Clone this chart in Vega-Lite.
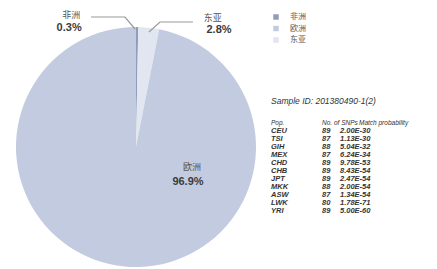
{
  "$schema": "https://vega.github.io/schema/vega-lite/v6.json",
  "padding": {"top": 11, "left": 0, "right": 0, "bottom": 0},
  "background": "white",
  "spacing": 0,
  "bounds": "flush",
  "config": {"view": {"stroke": null}, "font": "Liberation Sans"},
  "resolve": {"scale": {"color": "independent", "x": "independent", "y": "independent", "theta": "independent"}, "legend": {"color": "independent"}},
  "hconcat": [
    {
      "width": 272,
      "height": 242,
      "data": {"values": [
        {"region": "非洲", "share": 0.003},
        {"region": "东亚", "share": 0.028},
        {"region": "欧洲", "share": 0.969}
      ]},
      "layer": [
        {
          "mark": {"type": "arc", "outerRadius": 120},
          "encoding": {
            "theta": {"field": "share", "type": "quantitative", "stack": true},
            "order": {"field": "share", "type": "quantitative", "sort": "ascending"},
            "color": {"field": "region", "type": "nominal",
              "scale": {"domain": ["非洲", "欧洲", "东亚"], "range": ["#8f9dbd", "#c2cbe0", "#e1e6f0"]},
              "legend": {"orient": "none", "legendX": 272, "legendY": -13, "title": null, "symbolType": "square", "symbolSize": 30, "symbolStrokeWidth": 0, "labelFontSize": 8, "labelFont": "Noto Sans CJK SC", "labelColor": "#555555", "rowPadding": 3.5, "labelOffset": 10, "padding": 0}}
          }
        },
        {
          "data": {"values": [{}]},
          "mark": {"type": "point", "shape": "M-0.45,-1.30 L-0.11,-1.30 L-0.01,-1.18 M0.57,-1.25 L0.24,-1.25 L0.13,-1.15", "size": 40000, "filled": false, "stroke": "#9a9a9a", "strokeWidth": 1.2, "opacity": 1},
          "encoding": {}
        },
        {
          "mark": {"type": "text", "radius": 132, "dx": -66, "align": "center", "baseline": "middle", "font": "Noto Sans CJK SC", "fontSize": 9, "color": "#555555"},
          "encoding": {
            "theta": {"field": "share", "type": "quantitative", "stack": true},
            "order": {"field": "share", "type": "quantitative", "sort": "ascending"},
            "detail": {"field": "region", "type": "nominal"},
            "text": {"condition": {"test": "datum.region === '非洲'", "field": "region", "type": "nominal"}, "value": ""}
          }
        },
        {
          "mark": {"type": "text", "radius": 119, "dx": -68, "align": "center", "baseline": "middle", "fontSize": 11, "fontWeight": "bold", "color": "#3b3b3b"},
          "encoding": {
            "theta": {"field": "share", "type": "quantitative", "stack": true},
            "order": {"field": "share", "type": "quantitative", "sort": "ascending"},
            "detail": {"field": "region", "type": "nominal"},
            "text": {"condition": {"test": "datum.region === '非洲'", "field": "share", "type": "quantitative", "format": ".1%"}, "value": ""}
          }
        },
        {
          "mark": {"type": "text", "radius": 129.7, "dx": 63, "align": "center", "baseline": "middle", "font": "Noto Sans CJK SC", "fontSize": 9, "color": "#555555"},
          "encoding": {
            "theta": {"field": "share", "type": "quantitative", "stack": true},
            "order": {"field": "share", "type": "quantitative", "sort": "ascending"},
            "detail": {"field": "region", "type": "nominal"},
            "text": {"condition": {"test": "datum.region === '东亚'", "field": "region", "type": "nominal"}, "value": ""}
          }
        },
        {
          "mark": {"type": "text", "radius": 117.2, "dx": 70.5, "align": "center", "baseline": "middle", "fontSize": 11, "fontWeight": "bold", "color": "#3b3b3b"},
          "encoding": {
            "theta": {"field": "share", "type": "quantitative", "stack": true},
            "order": {"field": "share", "type": "quantitative", "sort": "ascending"},
            "detail": {"field": "region", "type": "nominal"},
            "text": {"condition": {"test": "datum.region === '东亚'", "field": "share", "type": "quantitative", "format": ".1%"}, "value": ""}
          }
        },
        {
          "mark": {"type": "text", "radius": 20.1, "dx": 58, "align": "center", "baseline": "middle", "font": "Noto Sans CJK SC", "fontSize": 9, "color": "#555555"},
          "encoding": {
            "theta": {"field": "share", "type": "quantitative", "stack": true},
            "order": {"field": "share", "type": "quantitative", "sort": "ascending"},
            "detail": {"field": "region", "type": "nominal"},
            "text": {"condition": {"test": "datum.region === '欧洲'", "field": "region", "type": "nominal"}, "value": ""}
          }
        },
        {
          "mark": {"type": "text", "radius": 35.2, "dx": 55.4, "align": "center", "baseline": "middle", "fontSize": 11, "fontWeight": "bold", "color": "#3b3b3b"},
          "encoding": {
            "theta": {"field": "share", "type": "quantitative", "stack": true},
            "order": {"field": "share", "type": "quantitative", "sort": "ascending"},
            "detail": {"field": "region", "type": "nominal"},
            "text": {"condition": {"test": "datum.region === '欧洲'", "field": "share", "type": "quantitative", "format": ".1%"}, "value": ""}
          }
        }
      ]
    },
    {
      "width": 165,
      "height": 242,
      "data": {"values": [
        {"row": 1, "pop": "CEU", "snps": "89", "prob": "2.00E-30"},
        {"row": 2, "pop": "TSI", "snps": "87", "prob": "1.13E-30"},
        {"row": 3, "pop": "GIH", "snps": "88", "prob": "5.04E-32"},
        {"row": 4, "pop": "MEX", "snps": "87", "prob": "6.24E-34"},
        {"row": 5, "pop": "CHD", "snps": "89", "prob": "9.78E-53"},
        {"row": 6, "pop": "CHB", "snps": "89", "prob": "8.43E-54"},
        {"row": 7, "pop": "JPT", "snps": "89", "prob": "2.47E-54"},
        {"row": 8, "pop": "MKK", "snps": "88", "prob": "2.00E-54"},
        {"row": 9, "pop": "ASW", "snps": "87", "prob": "1.34E-54"},
        {"row": 10, "pop": "LWK", "snps": "80", "prob": "1.78E-71"},
        {"row": 11, "pop": "YRI", "snps": "89", "prob": "5.00E-60"}
      ]},
      "layer": [
        {
          "mark": {"type": "text", "align": "left", "baseline": "middle", "fontSize": 7.5, "fontStyle": "italic", "fontWeight": "bold", "color": "#333333"},
          "encoding": {
            "x": {"datum": 0, "type": "quantitative", "scale": {"domain": [0, 1, 2, 3], "range": [-1, 50, 68, 87], "nice": false, "zero": false}, "axis": null},
            "y": {"field": "row", "type": "quantitative", "scale": {"domain": [-12.125, 18.125], "reverse": true, "nice": false, "zero": false}, "axis": null},
            "text": {"field": "pop"}
          }
        },
        {
          "mark": {"type": "text", "align": "left", "baseline": "middle", "fontSize": 7.5, "fontStyle": "italic", "fontWeight": "bold", "color": "#333333"},
          "encoding": {
            "x": {"datum": 1, "type": "quantitative"},
            "y": {"field": "row", "type": "quantitative"},
            "text": {"field": "snps"}
          }
        },
        {
          "mark": {"type": "text", "align": "left", "baseline": "middle", "fontSize": 7.5, "fontStyle": "italic", "fontWeight": "bold", "color": "#333333"},
          "encoding": {
            "x": {"datum": 2, "type": "quantitative"},
            "y": {"field": "row", "type": "quantitative"},
            "text": {"field": "prob"}
          }
        },
        {
          "data": {"values": [
            {"col": 0, "label": "Pop."},
            {"col": 1, "label": "No. of SNPs"},
            {"col": 3, "label": "Match probability"}
          ]},
          "mark": {"type": "text", "align": "left", "baseline": "middle", "fontSize": 6.5, "fontStyle": "italic", "color": "#333333", "limit": 78, "ellipsis": ""},
          "encoding": {
            "x": {"field": "col", "type": "quantitative"},
            "y": {"datum": 0, "type": "quantitative"},
            "text": {"field": "label"}
          }
        },
        {
          "data": {"values": [{"label": "Sample ID: 201380490-1(2)"}]},
          "mark": {"type": "text", "align": "left", "baseline": "middle", "fontSize": 8.5, "fontStyle": "italic", "color": "#333333"},
          "encoding": {
            "x": {"datum": 0, "type": "quantitative"},
            "y": {"datum": -2.7, "type": "quantitative"},
            "text": {"field": "label"}
          }
        }
      ]
    }
  ]
}
